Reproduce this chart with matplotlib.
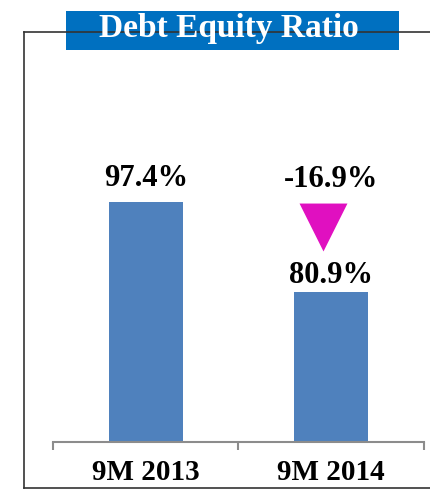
import matplotlib
matplotlib.use("Agg")
from matplotlib import pyplot as plt
from matplotlib.lines import Line2D
from matplotlib.patches import Rectangle
from matplotlib.transforms import offset_copy

categories = ["9M 2013", "9M 2014"]
ratios = [97.4, 80.9]
chartTitle = "Debt Equity Ratio"

W, H = 431, 490
SERIF = "Liberation Serif"
BAR_BLUE = "#4F81BD"
TITLE_BLUE = "#0070C0"
MAGENTA = "#E010C0"


def fx(px):
    return px / W


def fy(py):
    return 1 - py / H


fig = plt.figure(figsize=(W / 100, H / 100), dpi=100)

# outer frame (open on the right side)
frameColor = "#333333"
fig.add_artist(Line2D([fx(24), fx(24)], [fy(32), fy(488)], color=frameColor, lw=1.2))
fig.add_artist(Line2D([fx(24), fx(431)], [fy(32), fy(32)], color=frameColor, lw=1.2))
fig.add_artist(Line2D([fx(24), fx(431)], [fy(488), fy(488)], color=frameColor, lw=1.2))

# title box
fig.add_artist(Rectangle((fx(66), fy(50)), fx(399) - fx(66), fy(11) - fy(50),
                         facecolor=TITLE_BLUE, edgecolor="none"))
fig.text(fx(229), fy(37), chartTitle, color="white", fontsize=24, fontweight="bold",
         family=SERIF, ha="center", va="baseline")

ax = fig.add_axes([fx(53), fy(442), fx(424) - fx(53), fy(32) - fy(442)])
ax.patch.set_alpha(0)

xs = list(range(len(categories)))
ax.bar(xs, ratios, width=0.4, color=BAR_BLUE, bottom=0)
ax.set_xlim(-0.5, len(categories) - 0.5)
ax.set_ylim(53.4, 128.6)

for s in ["left", "right", "top"]:
    ax.spines[s].set_visible(False)
ax.spines["bottom"].set_color("#8C8C8C")
ax.spines["bottom"].set_linewidth(1.5)
ax.set_yticks([])

ax.set_xticks(xs)
ax.set_xticklabels(categories, fontsize=21, fontweight="bold", family=SERIF)
ax.tick_params(axis="x", which="major", length=0, pad=12)
ax.set_xticks([x - 0.5 for x in range(len(categories) + 1)], minor=True)
ax.tick_params(axis="x", which="minor", length=6, width=1.5, color="#8C8C8C")

# value labels
labelOffsets = [11.5, 6.5]
for x, v, off in zip(xs, ratios, labelOffsets):
    ax.annotate(f"{v:.1f}%", (x, v), xytext=(0, off), textcoords="offset points",
                ha="center", va="baseline", fontsize=22, fontweight="bold", family=SERIF)

change = (ratios[1] - ratios[0]) / ratios[0] * 100
ax.annotate(f"{change:.1f}%", (xs[1], ratios[0]), xytext=(0, 11), textcoords="offset points",
            ha="center", va="baseline", fontsize=22, fontweight="bold", family=SERIF)

# downward triangle between change label and bar value
triTrans = offset_copy(ax.transData, fig=fig, x=-5.8, y=46.8, units="points")
ax.plot([xs[1]], [ratios[1]], marker=[(-1, 1), (1, 1), (0, -1)], markersize=34.5,
        color=MAGENTA, markeredgewidth=0, transform=triTrans, clip_on=False)

fig.savefig("out.png", dpi=100)
